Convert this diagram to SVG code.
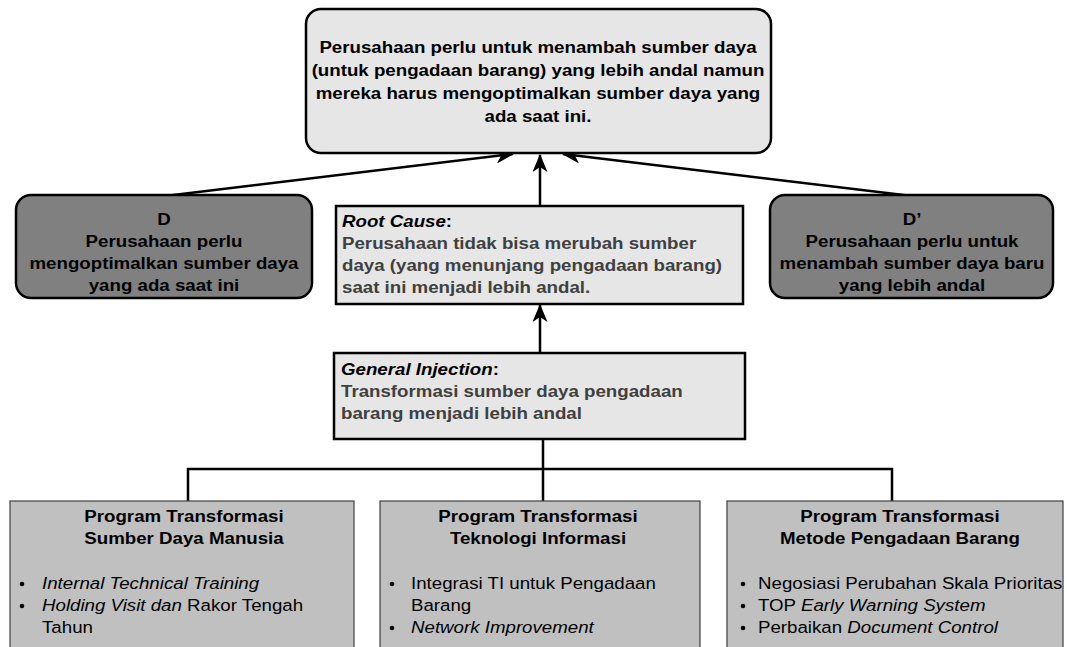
<svg xmlns="http://www.w3.org/2000/svg" width="1067" height="647" viewBox="0 0 1067 647">
<style>
  text { font-family: "Liberation Sans", Arial, sans-serif; font-size: 17px; fill: #000; }
  .b { font-weight: bold; }
  .i { font-style: italic; }
  .g { fill: #404040; }
  .box { stroke: #000; stroke-width: 2.5; }
  .light { fill: #e6e6e6; }
  .dark { fill: #808080; }
  .prog { fill: #c0c0c0; stroke: #404040; stroke-width: 1.2; }
  .conn { stroke: #000; stroke-width: 2.5; fill: none; }
</style>
<defs>
  <marker id="ah" viewBox="0 0 18 15" refX="17" refY="7.5" markerWidth="18" markerHeight="15" markerUnits="userSpaceOnUse" orient="auto">
    <path d="M0,0 L18,7.5 L0,15 L5,7.5 Z" fill="#000"/>
  </marker>
</defs>
<rect width="1067" height="647" fill="#fff"/>

<g id="connectors">
  <line class="conn" x1="165" y1="196" x2="513" y2="154" marker-end="url(#ah)"/>
  <line class="conn" x1="912" y1="196" x2="563" y2="154" marker-end="url(#ah)"/>
  <line class="conn" x1="540" y1="206" x2="540" y2="155" marker-end="url(#ah)"/>
  <line class="conn" x1="540" y1="353" x2="540" y2="305" marker-end="url(#ah)"/>
  <path class="conn" d="M543,439 V469 M188,501 V469 H892 V501 M543,469 V501"/>
</g>

<g id="top">
  <rect class="box light" x="306" y="9" width="465" height="144" rx="15"/>
  <g text-anchor="middle">
    <text class="b" transform="translate(538,0) scale(1.1,1)" x="0" y="53">Perusahaan perlu untuk menambah sumber daya</text>
    <text class="b" transform="translate(538,0) scale(1.1,1)" x="0" y="76">(untuk pengadaan barang) yang lebih andal namun</text>
    <text class="b" transform="translate(538,0) scale(1.1,1)" x="0" y="99">mereka harus mengoptimalkan sumber daya yang</text>
    <text class="b" transform="translate(538,0) scale(1.1,1)" x="0" y="122">ada saat ini.</text>
  </g>
</g>

<g id="D">
  <rect class="box dark" x="16" y="195" width="296" height="103" rx="15"/>
  <g text-anchor="middle">
    <text class="b" transform="translate(164,0) scale(1.1,1)" x="0" y="225">D</text>
    <text class="b" transform="translate(164,0) scale(1.1,1)" x="0" y="247">Perusahaan perlu</text>
    <text class="b" transform="translate(164,0) scale(1.1,1)" x="0" y="269">mengoptimalkan sumber daya</text>
    <text class="b" transform="translate(164,0) scale(1.1,1)" x="0" y="291">yang ada saat ini</text>
  </g>
</g>

<g id="Dprime">
  <rect class="box dark" x="770" y="195" width="283" height="103" rx="15"/>
  <g text-anchor="middle">
    <text class="b" transform="translate(912,0) scale(1.1,1)" x="0" y="225">D’</text>
    <text class="b" transform="translate(912,0) scale(1.1,1)" x="0" y="247">Perusahaan perlu untuk</text>
    <text class="b" transform="translate(912,0) scale(1.1,1)" x="0" y="269">menambah sumber daya baru</text>
    <text class="b" transform="translate(912,0) scale(1.1,1)" x="0" y="291">yang lebih andal</text>
  </g>
</g>

<g id="rootcause">
  <rect class="box light" x="336" y="206" width="407" height="98"/>
  <text class="b" transform="translate(342,0) scale(1.1,1)" x="0" y="227"><tspan class="i">Root Cause</tspan>:</text>
  <text class="b g" transform="translate(342,0) scale(1.1,1)" x="0" y="249">Perusahaan tidak bisa merubah sumber</text>
  <text class="b g" transform="translate(342,0) scale(1.1,1)" x="0" y="271">daya (yang menunjang pengadaan barang)</text>
  <text class="b g" transform="translate(342,0) scale(1.1,1)" x="0" y="293">saat ini menjadi lebih andal.</text>
</g>

<g id="injection">
  <rect class="box light" x="334" y="353" width="411" height="86"/>
  <text class="b" transform="translate(341,0) scale(1.1,1)" x="0" y="375"><tspan class="i">General Injection</tspan>:</text>
  <text class="b g" transform="translate(341,0) scale(1.1,1)" x="0" y="397">Transformasi sumber daya pengadaan</text>
  <text class="b g" transform="translate(341,0) scale(1.1,1)" x="0" y="419">barang menjadi lebih andal</text>
</g>

<g id="prog-sdm">
  <rect class="prog" x="10" y="501" width="344" height="160"/>
  <g text-anchor="middle">
    <text class="b" transform="translate(184,0) scale(1.1,1)" x="0" y="522">Program Transformasi</text>
    <text class="b" transform="translate(184,0) scale(1.1,1)" x="0" y="544">Sumber Daya Manusia</text>
  </g>
  <circle cx="22" cy="584" r="2.3"/>
  <circle cx="22" cy="606" r="2.3"/>
  <text class="i" transform="translate(42,0) scale(1.1,1)" x="0" y="589">Internal Technical Training</text>
  <text transform="translate(42,0) scale(1.1,1)" x="0" y="611"><tspan class="i">Holding Visit dan</tspan> Rakor Tengah</text>
  <text transform="translate(42,0) scale(1.1,1)" x="0" y="633">Tahun</text>
</g>

<g id="prog-ti">
  <rect class="prog" x="380" y="501" width="320" height="160"/>
  <g text-anchor="middle">
    <text class="b" transform="translate(538,0) scale(1.1,1)" x="0" y="522">Program Transformasi</text>
    <text class="b" transform="translate(538,0) scale(1.1,1)" x="0" y="544">Teknologi Informasi</text>
  </g>
  <circle cx="392" cy="584" r="2.3"/>
  <circle cx="392" cy="628" r="2.3"/>
  <text transform="translate(411,0) scale(1.1,1)" x="0" y="589">Integrasi TI untuk Pengadaan</text>
  <text transform="translate(411,0) scale(1.1,1)" x="0" y="611">Barang</text>
  <text class="i" transform="translate(411,0) scale(1.1,1)" x="0" y="633">Network Improvement</text>
</g>

<g id="prog-metode">
  <rect class="prog" x="727" y="501" width="336" height="160"/>
  <g text-anchor="middle">
    <text class="b" transform="translate(900,0) scale(1.1,1)" x="0" y="522">Program Transformasi</text>
    <text class="b" transform="translate(900,0) scale(1.1,1)" x="0" y="544">Metode Pengadaan Barang</text>
  </g>
  <circle cx="743" cy="584" r="2.3"/>
  <circle cx="743" cy="606" r="2.3"/>
  <circle cx="743" cy="628" r="2.3"/>
  <text transform="translate(758,0) scale(1.1,1)" x="0" y="589">Negosiasi Perubahan Skala Prioritas</text>
  <text transform="translate(758,0) scale(1.1,1)" x="0" y="611">TOP <tspan class="i">Early Warning System</tspan></text>
  <text transform="translate(758,0) scale(1.1,1)" x="0" y="633">Perbaikan <tspan class="i">Document Control</tspan></text>
</g>
</svg>
